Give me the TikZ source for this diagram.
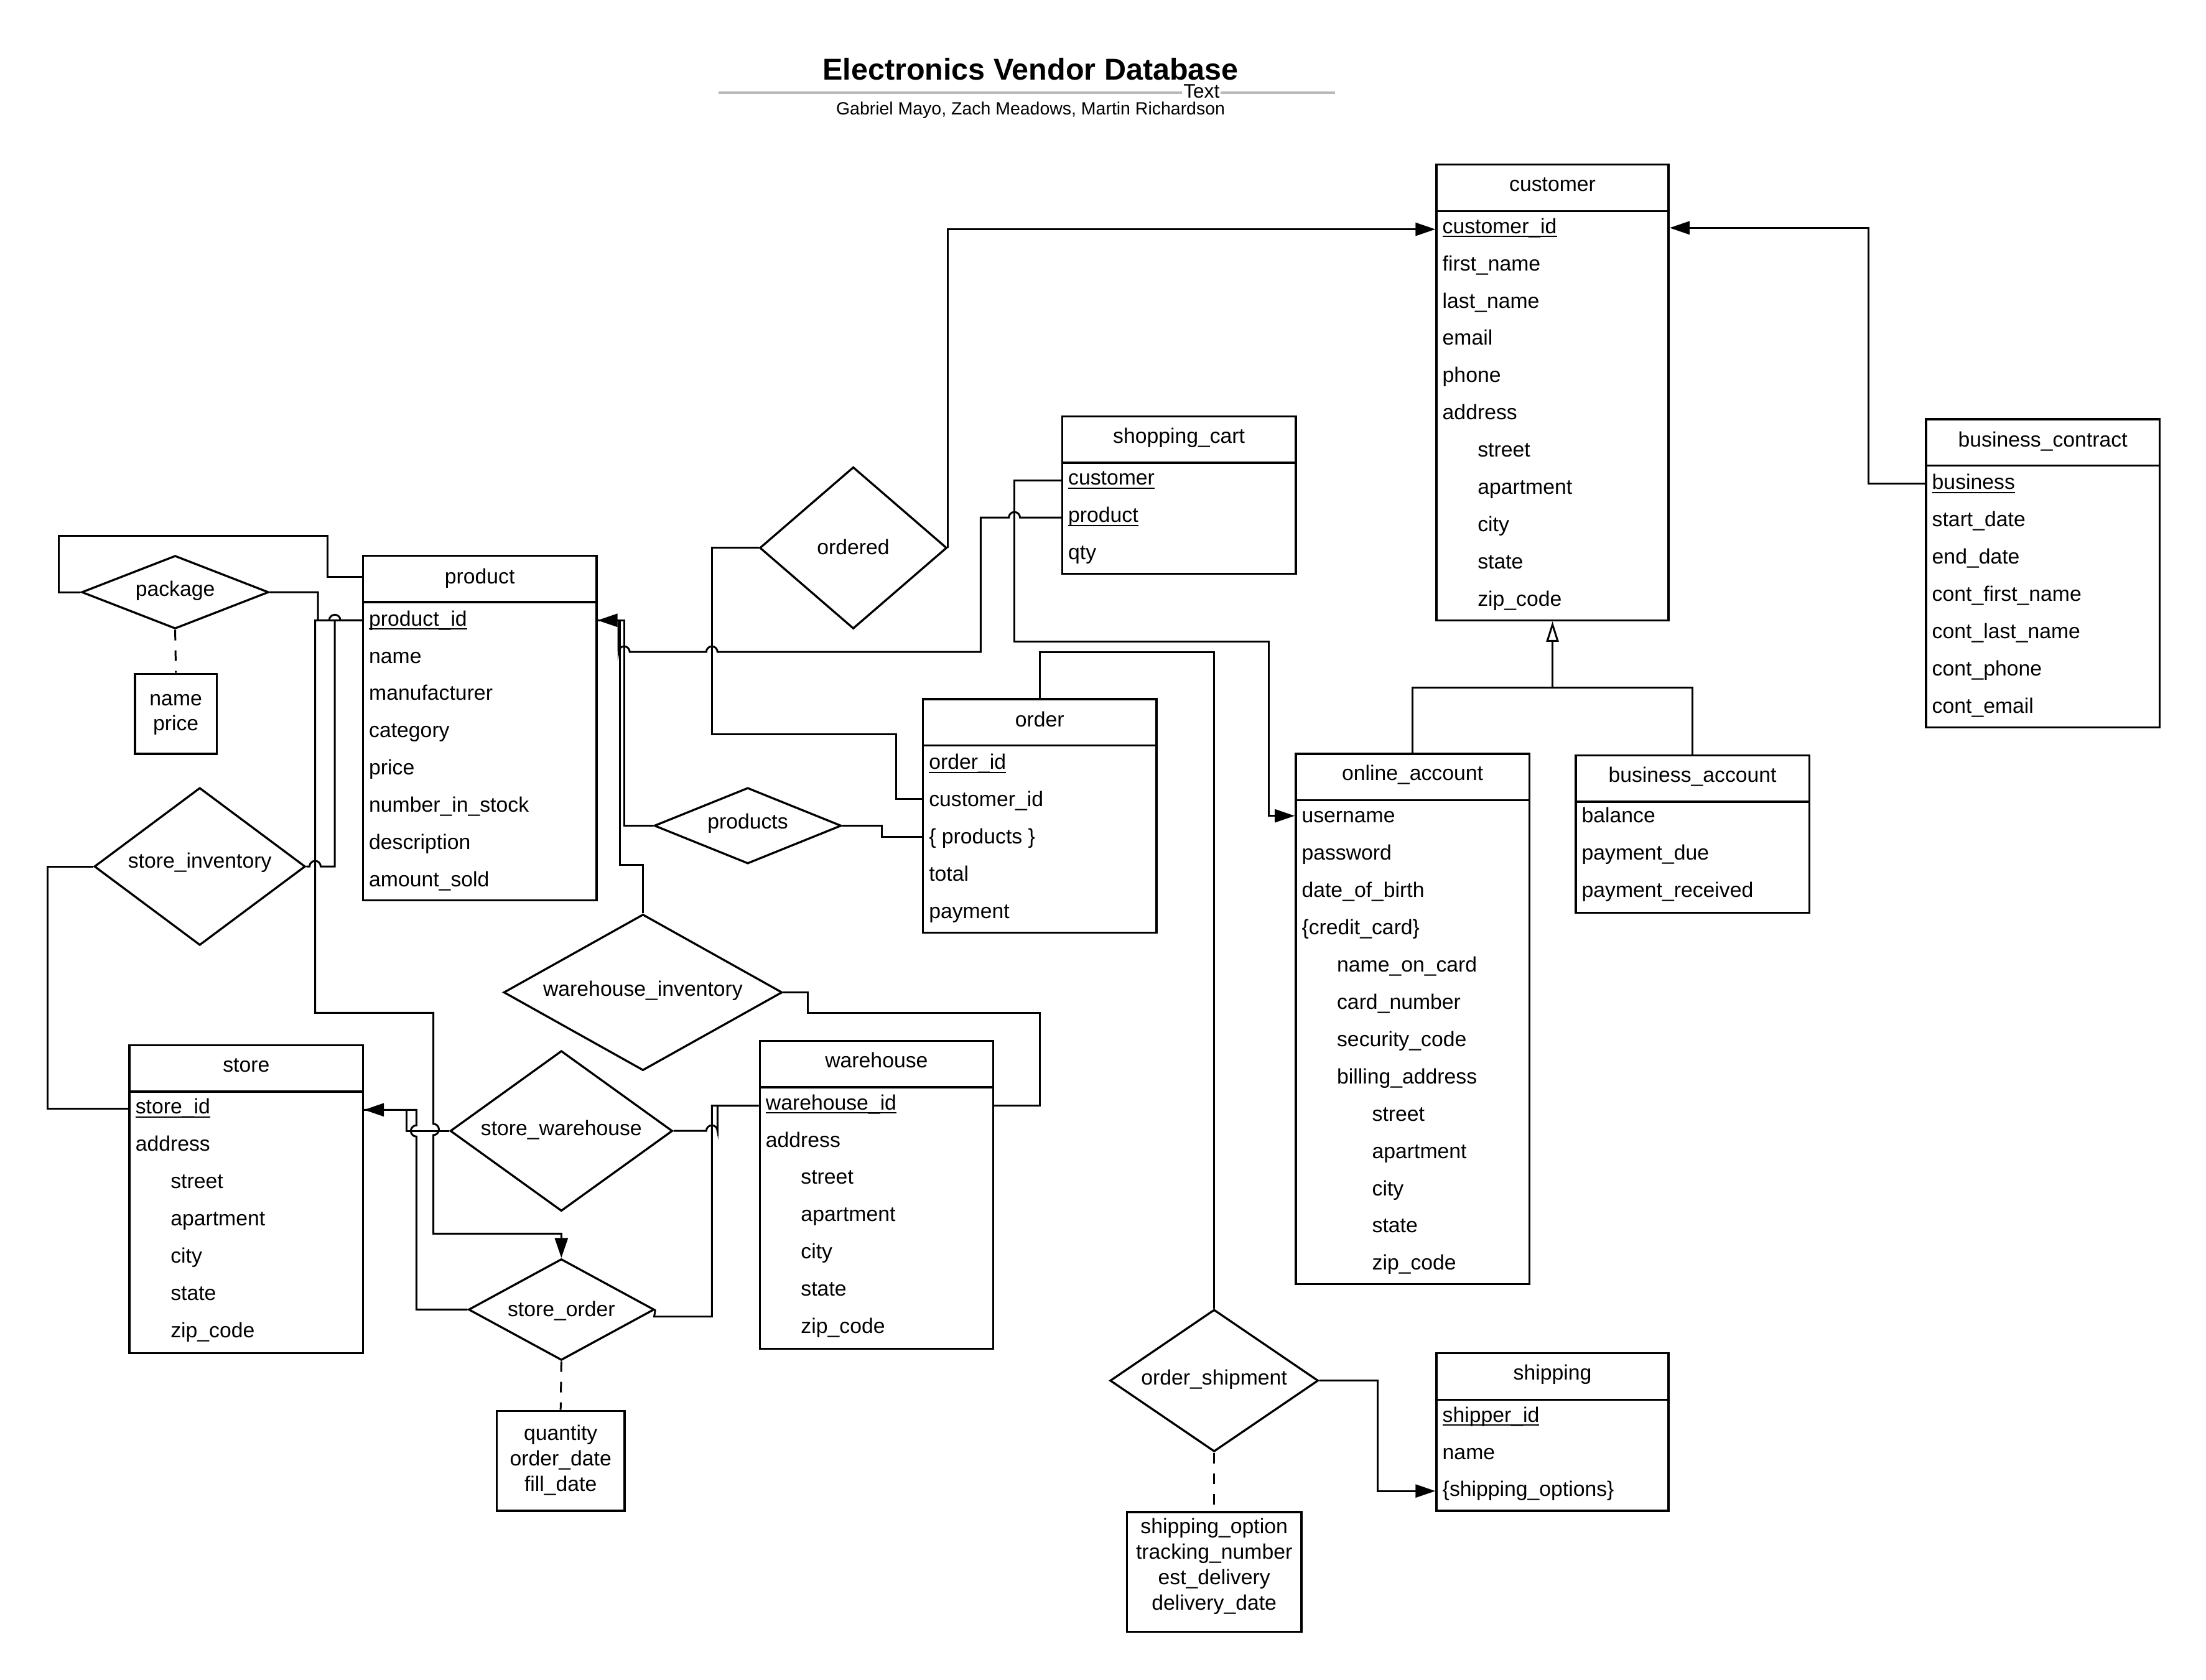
\documentclass[tikz,border=0pt]{standalone}
\usepackage{fontspec}
\setmainfont{Liberation Sans}
\usetikzlibrary{shapes.geometric,arrows.meta,fit}
\newcommand\unitpx{0.022615cm}
\newcommand\hoprad{0.09cm}
\definecolor{lgray}{RGB}{185,185,185}
\newcommand\erul[1]{\setbox0\hbox{#1}\rlap{\rule[-1.7pt]{\wd0}{0.55pt}}\box0}
\newcommand\erentity[8]{%
  \node[ebox, fit={(#2,#3) (#4,#5)}] (#1) {};
  \draw[eline] (#2,#6) -- (#4,#6);
  \node[etitle] (#1-title) at ({(#2+#4)/2},#7) {#8};
}
\newcommand\erattrs[4]{%
  \foreach \ind/\txt [count=\i] in {#4} {\node[attr] (#1-\i) at ({#2+\ind},{#3+26.5*(\i-1)}) {\txt};}
}
\begin{document}
\begin{tikzpicture}[x=0.022615cm,y=-0.022615cm, font=\fontsize{9.6}{11.6}\selectfont,
 ebox/.style={draw, line width=0.95pt, inner sep=0pt},
 eline/.style={line width=0.95pt},
 etitle/.style={inner sep=0pt, text height=8pt, text depth=1.7pt},
 attr/.style={anchor=west, inner sep=0pt, text height=8pt, text depth=1.7pt},
 rel/.style={draw, diamond, line width=0.95pt, inner sep=0pt},
 reltxt/.style={inner sep=0pt, text height=8pt, text depth=1.7pt},
 conn/.style={line width=0.85pt},
 arr/.style={-{Triangle[length=0.32cm,width=0.21cm]}},
 isa/.style={-{Triangle[open,length=0.33cm,width=0.2cm]}},
 dsh/.style={line width=0.85pt, dash pattern=on 0.17cm off 0.16cm},
 abox/.style={draw, line width=0.95pt, inner sep=0pt},
]
\useasboundingbox (0,0) rectangle (1568,1194);

% title
\node[inner sep=0pt] (title) at (732.5,49) {\fontsize{13.8}{16}\selectfont\bfseries Electronics Vendor Database};
\draw[line width=1pt, lgray] (510.6,66) -- (948.8,66);
\node[fill=white, inner xsep=0.6pt, inner ysep=0pt] (textlbl) at (854,65) {\fontsize{9}{10}\selectfont Text};
\node[inner sep=0pt] (authors) at (732.5,78.5) {\fontsize{8.1}{10}\selectfont Gabriel Mayo, Zach Meadows, Martin Richardson};

% entities
\erentity{customer}{1021}{117}{1186}{441}{150}{131}{customer}
\erattrs{customer}{1025}{161}{0/\erul{customer\_id},0/first\_name,0/last\_name,0/email,0/phone,0/address,25/street,25/apartment,25/city,25/state,25/zip\_code}

\erentity{cart}{755}{296}{921}{408}{329}{310}{shopping\_cart}
\erattrs{cart}{759}{340}{0/\erul{customer},0/\erul{product},0/qty}

\erentity{product}{258}{395}{424}{640}{428}{410}{product}
\erattrs{product}{262}{440}{0/\erul{product\_id},0/name,0/manufacturer,0/category,0/price,0/number\_in\_stock,0/description,0/amount\_sold}

\erentity{order}{656}{497}{822}{663}{530}{512}{order}
\erattrs{order}{660}{542}{0/\erul{order\_id},0/customer\_id,0/\{ products \},0/total,0/payment}

\erentity{online}{921}{536}{1087}{913}{569}{550}{online\_account}
\erattrs{online}{925}{580}{0/username,0/password,0/date\_of\_birth,0/\{credit\_card\},25/name\_on\_card,25/card\_number,25/security\_code,25/billing\_address,50/street,50/apartment,50/city,50/state,50/zip\_code}

\erentity{business}{1120}{537}{1286}{649}{570}{551}{business\_account}
\erattrs{business}{1124}{580}{0/balance,0/payment\_due,0/payment\_received}

\erentity{bcontract}{1369}{298}{1535}{517}{331}{313}{business\_contract}
\erattrs{bcontract}{1373}{343}{0/\erul{business},0/start\_date,0/end\_date,0/cont\_first\_name,0/cont\_last\_name,0/cont\_phone,0/cont\_email}

\erentity{store}{92}{743}{258}{962}{776}{757}{store}
\erattrs{store}{96}{787}{0/\erul{store\_id},0/address,25/street,25/apartment,25/city,25/state,25/zip\_code}

\erentity{warehouse}{540}{740}{706}{959}{773}{754}{warehouse}
\erattrs{warehouse}{544}{784}{0/\erul{warehouse\_id},0/address,25/street,25/apartment,25/city,25/state,25/zip\_code}

\erentity{shipping}{1021}{962}{1186}{1074}{995}{976}{shipping}
\erattrs{shipping}{1025}{1006}{0/\erul{shipper\_id},0/name,0/\{shipping\_options\}}

% relationship diamonds
\node[rel, minimum width=133*\unitpx, minimum height=52*\unitpx] (package) at (124.5,421) {};
\node[reltxt, yshift=1.3pt] (package-t) at (package.center) {package};
\node[rel, minimum width=133*\unitpx, minimum height=115*\unitpx] (ordered) at (606.5,389.5) {};
\node[reltxt] (ordered-t) at (ordered.center) {ordered};
\node[rel, minimum width=133*\unitpx, minimum height=54*\unitpx] (products) at (531.5,587) {};
\node[reltxt, yshift=1.8pt] (products-t) at (products.center) {products};
\node[rel, minimum width=150*\unitpx, minimum height=112*\unitpx] (storeinv) at (142,616) {};
\node[reltxt, yshift=2.5pt] (storeinv-t) at (storeinv.center) {store\_inventory};
\node[rel, minimum width=198*\unitpx, minimum height=111*\unitpx] (whinv) at (457,705.5) {};
\node[reltxt, yshift=1.3pt] (whinv-t) at (whinv.center) {warehouse\_inventory};
\node[rel, minimum width=158*\unitpx, minimum height=114*\unitpx] (storewh) at (399,804) {};
\node[reltxt, yshift=1pt] (storewh-t) at (storewh.center) {store\_warehouse};
\node[rel, minimum width=132*\unitpx, minimum height=72*\unitpx] (storeorder) at (399,931) {};
\node[reltxt] (storeorder-t) at (storeorder.center) {store\_order};
\node[rel, minimum width=148*\unitpx, minimum height=101*\unitpx] (ordship) at (863,981.5) {};
\node[reltxt, yshift=1.3pt] (ordship-t) at (ordship.center) {order\_shipment};

% attribute boxes
\node[abox, fit={(96,479) (154,536)}] (nameprice) {};
\node[align=center, inner sep=0pt] (nameprice-t) at (125,508) {name\\price};
\node[abox, fit={(353,1003) (444,1074)}] (sobox) {};
\node[align=center, inner sep=0pt] (sobox-t) at (398.5,1038) {quantity\\order\_date\\fill\_date};
\node[abox, fit={(801,1075) (925,1160)}] (shipbox) {};
\node[align=center, inner sep=0pt] (shipbox-t) at (863,1113.5) {shipping\_option\\tracking\_number\\est\_delivery\\delivery\_date};

% connectors
% package self loop
\draw[conn] (package.west) -- (42,421) |- (233,381) |- (product.west |- 0,410);
% package right
\draw[conn] (package.east) -| (226,441) -- (234,441) arc[start angle=180,end angle=0,radius=\hoprad] -- (product.west |- 0,441);
% store_inventory right
\draw[conn] (storeinv.east) -- (220,616) arc[start angle=180,end angle=0,radius=\hoprad] -- (238,616) -- (238,441) -- (product.west |- 0,441);
% store_inventory left
\draw[conn] (storeinv.west) -- (34,616) |- (store.west |- 0,788);
% product -> store_order
\draw[conn, arr] (product.west |- 0,441) -- (224,441) -- (224,720) -- (308,720) -- (308,799) arc[start angle=90,end angle=-90,radius=\hoprad] -- (308,877) -| (storeorder.north);
% store_warehouse -> store
\draw[conn, arr] (storewh.west) -- (289,804) |- (store.east |- 0,789);
% store_order left -> store
\draw[conn] (storeorder.west) -- (296,931) -- (296,808) arc[start angle=270,end angle=90,radius=\hoprad] -- (296,789) -- (store.east |- 0,789);
% store_warehouse right -> warehouse
\draw[conn] (storewh.east) -- (502,804) arc[start angle=180,end angle=0,radius=\hoprad] -- (510,786) -- (warehouse.west |- 0,786);
% store_order right -> warehouse
\draw[conn] (storeorder.east) -- (465,936) -- (506,936) -- (506,786) -- (warehouse.west |- 0,786);
% store_order attributes
\draw[dsh] (storeorder.south) -- (sobox.north);
% warehouse_inventory right -> warehouse
\draw[conn] (whinv.east) -- (574,705.5) |- (739,720) |- (warehouse.east |- 0,786);
% warehouse_inventory top -> product
\draw[conn] (whinv.north) |- (440.5,615) -- (440.5,441) -- (product.east |- 0,441);
% products -> product
\draw[conn, arr] (products.west) -| (443.6,441) -- (product.east |- 0,441);
% shopping_cart.product -> product
\draw[conn] (cart.west |- 0,368) -- (725,368) arc[start angle=0,end angle=180,radius=\hoprad] -- (697,368) -- (697,463.5) -- (510,463.5) arc[start angle=0,end angle=180,radius=\hoprad] -- (447.6,463.5) arc[start angle=0,end angle=180,radius=\hoprad] -- (439.6,441) -- (product.east |- 0,441);
% shopping_cart.customer -> online_account
\draw[conn, arr] (cart.west |- 0,341.5) -| (721,456) -| (902,580) -- (online.west |- 0,580);
% ordered left -> order
\draw[conn] (ordered.west) -| (506,522) -| (637,568) -- (order.west |- 0,568);
% ordered right -> customer
\draw[conn, arr] (ordered.east) |- (customer.west |- 0,163);
% products right -> order
\draw[conn] (products.east) -- (627,587) |- (order.west |- 0,595);
% order -> order_shipment
\draw[conn] (order.north) |- (863,463.5) -- (ordship.north);
% order_shipment -> shipping
\draw[conn, arr] (ordship.east) -- (979,981.5) |- (shipping.west |- 0,1060);
\draw[dsh] (ordship.south) -- (shipbox.north);
% business_contract -> customer
\draw[conn, arr] (bcontract.west |- 0,344) -- (1328,344) |- (customer.east |- 0,162);
% inheritance
\coordinate (isa) at (1103.5,489);
\draw[conn] (online.north) |- (isa) -| (business.north);
\draw[conn, isa] (isa) -- (customer.south);
% package attributes
\draw[dsh] (package.south) -- (nameprice.north);
\end{tikzpicture}
\end{document}
